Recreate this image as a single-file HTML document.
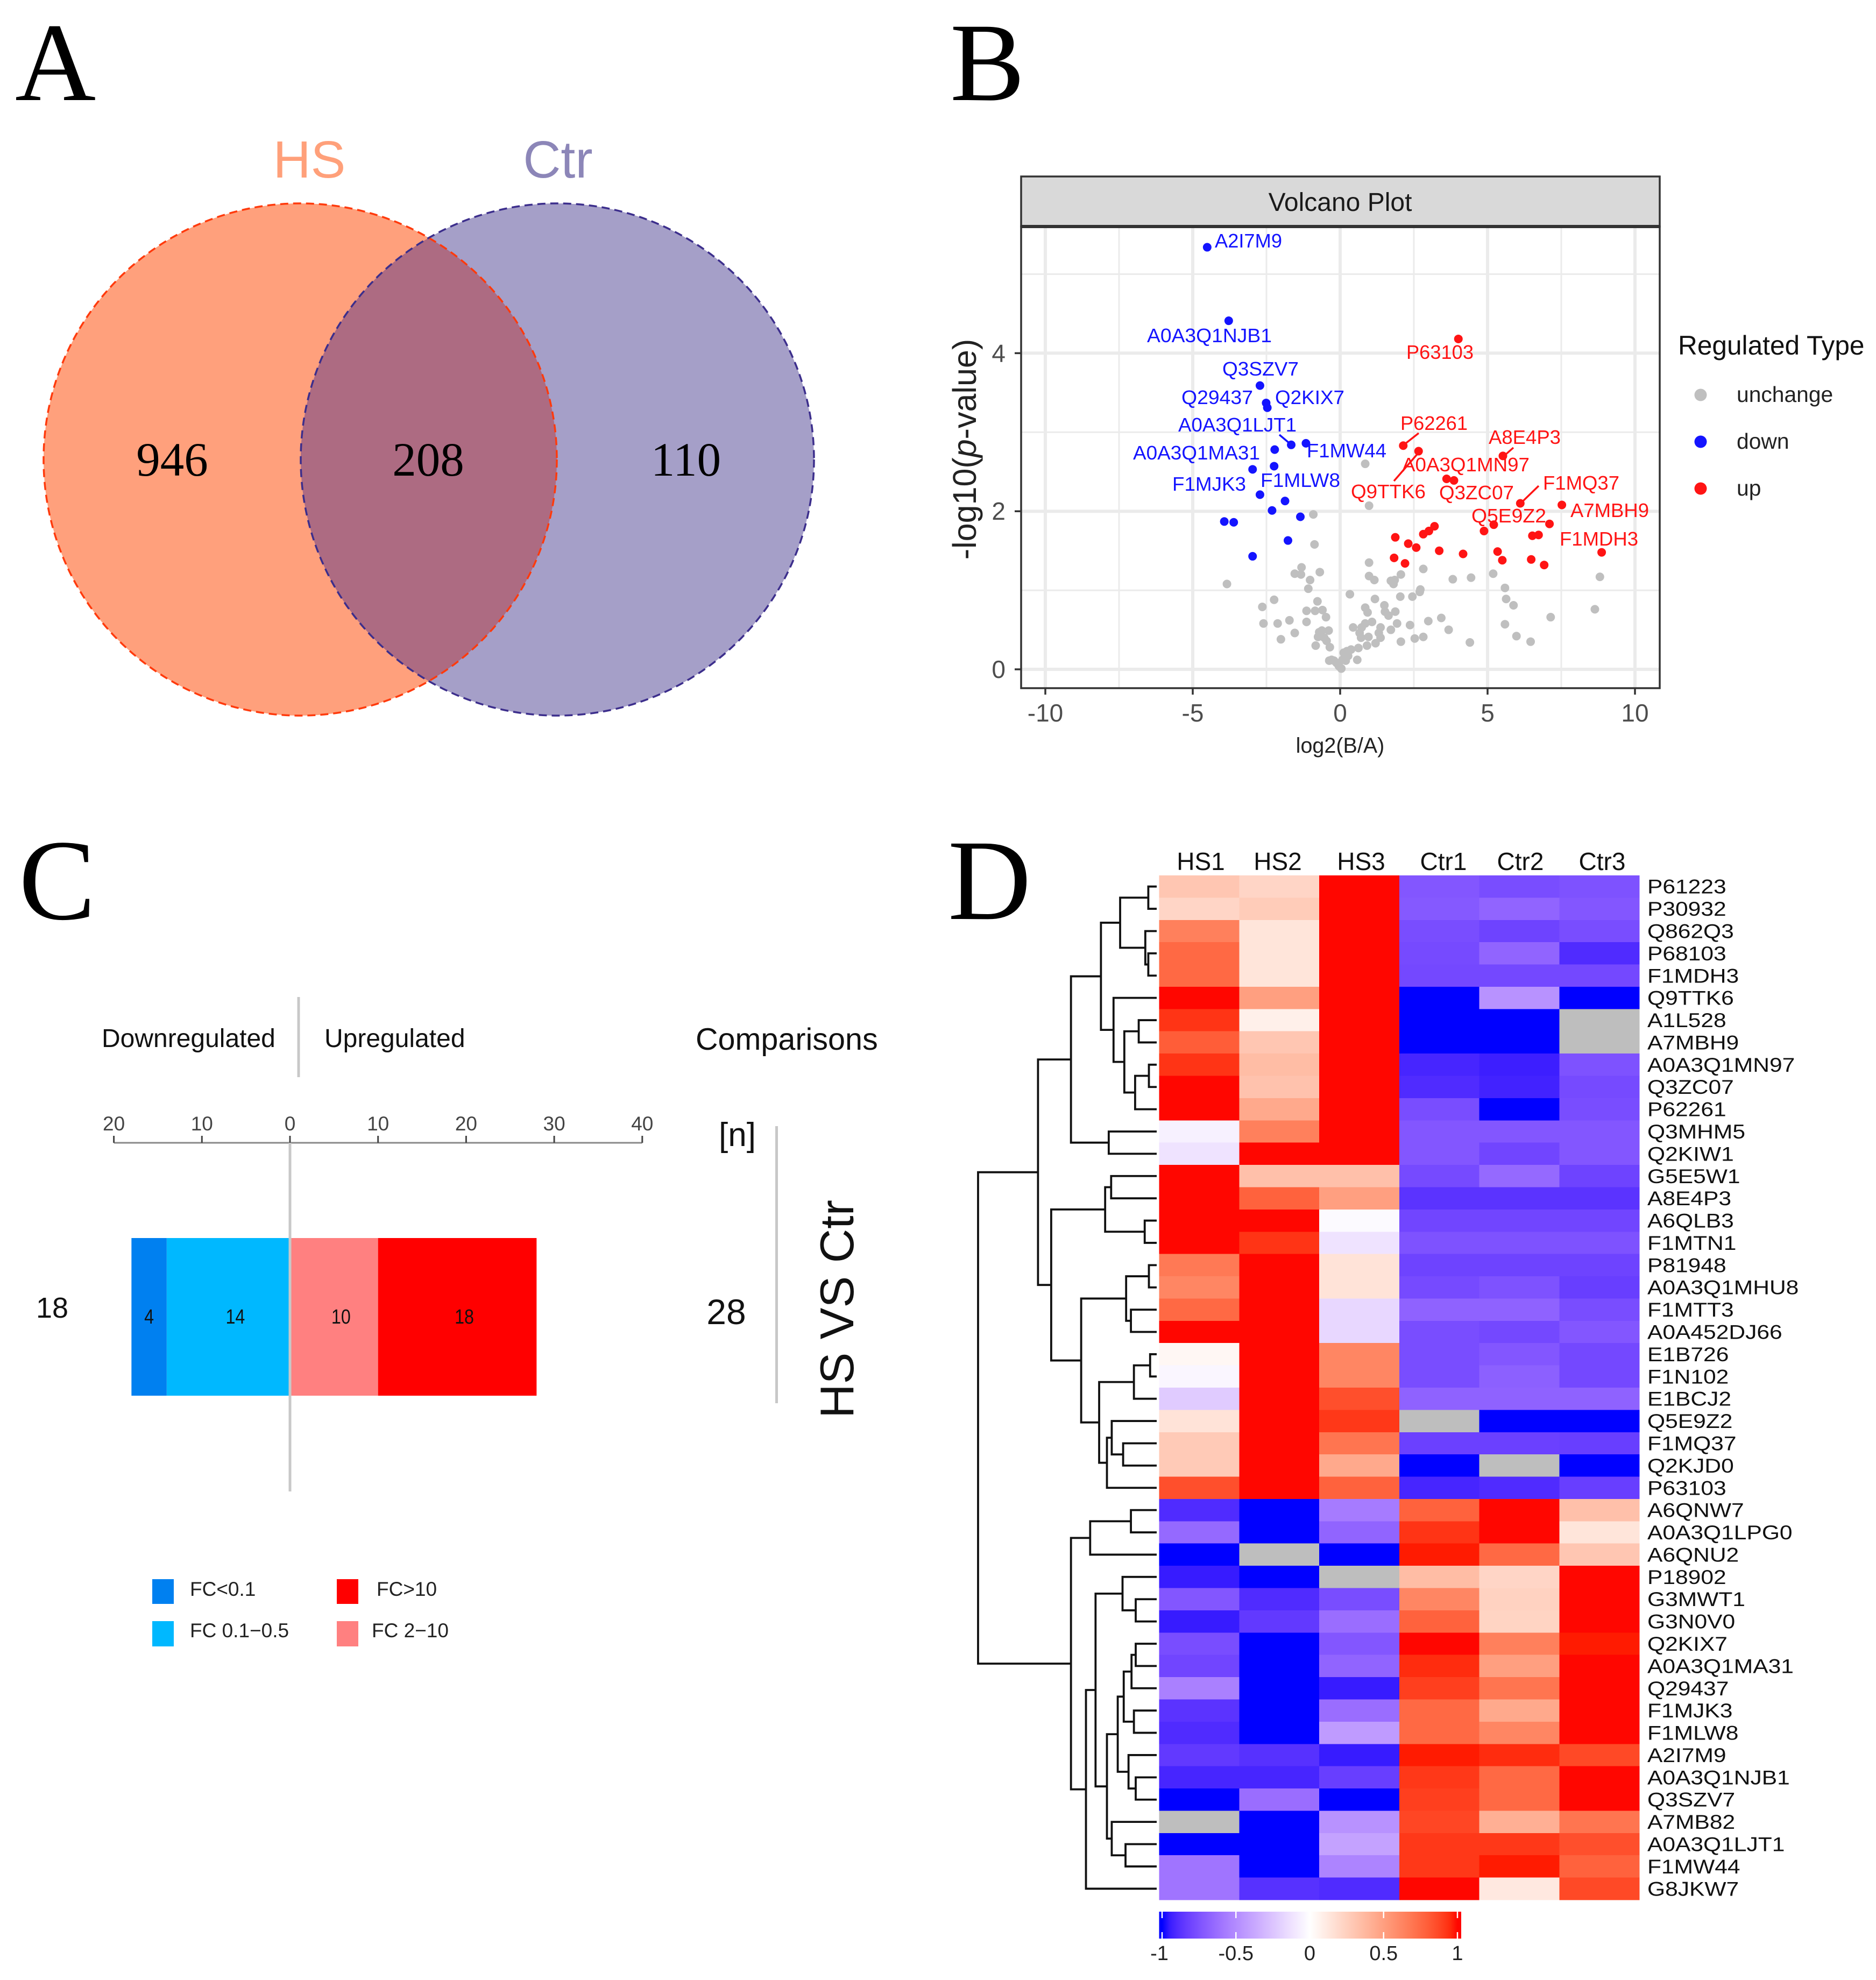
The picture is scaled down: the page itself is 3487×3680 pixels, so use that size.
<!DOCTYPE html>
<html><head><meta charset="utf-8"><title>Proteomics figure</title>
<style>
html,body{margin:0;padding:0;background:#fff}
svg{display:block}
text{font-family:"Liberation Sans",sans-serif}
.serif{font-family:"Liberation Serif",serif}
</style></head>
<body>
<svg xmlns="http://www.w3.org/2000/svg" width="3487" height="3680" viewBox="0 0 3487 3680">
<rect width="3487" height="3680" fill="#fff"/>
<defs>
<clipPath id="clipHS"><ellipse cx="558" cy="854" rx="477" ry="476"/></clipPath>
<linearGradient id="cbGrad" x1="0" x2="1" y1="0" y2="0"></linearGradient>
</defs>

<!-- panel letters -->
<text class="serif" x="28" y="186" font-size="208">A</text>
<text class="serif" x="1766" y="186" font-size="208">B</text>
<text class="serif" x="35" y="1708" font-size="214">C</text>
<text class="serif" x="1762" y="1708" font-size="214">D</text>

<!-- Panel A: Venn -->
<g>
<text x="575" y="330" font-size="97" text-anchor="middle" fill="#FFA07A">HS</text>
<text x="1037" y="330" font-size="97" text-anchor="middle" fill="#8C86B8">Ctr</text>
<ellipse cx="558" cy="854" rx="477" ry="476" fill="#FFA07C"/>
<ellipse cx="1036" cy="854" rx="477" ry="476" fill="#A59FC8"/>
<ellipse cx="1036" cy="854" rx="477" ry="476" fill="#AD6B82" clip-path="url(#clipHS)"/>
<ellipse cx="558" cy="854" rx="477" ry="476" fill="none" stroke="#FF3A0C" stroke-width="3.5" stroke-dasharray="15 9"/>
<ellipse cx="1036" cy="854" rx="477" ry="476" fill="none" stroke="#3C2E8C" stroke-width="3.5" stroke-dasharray="15 9"/>
<text class="serif" x="320" y="884" font-size="89" text-anchor="middle">946</text>
<text class="serif" x="796" y="884" font-size="89" text-anchor="middle">208</text>
<text class="serif" x="1275" y="884" font-size="89" text-anchor="middle">110</text>
</g>

<!-- Panel B: Volcano -->
<g>
<rect x="1898" y="421" width="1187" height="858" fill="#fff"/>
<g id="volcGrid"></g>
<g id="volcGray"></g>
<g id="volcDown"></g>
<g id="volcUp"></g>
<rect x="1898" y="421" width="1187" height="858" fill="none" stroke="#333" stroke-width="3.5"/>
<rect x="1898" y="328" width="1187" height="93" fill="#D9D9D9" stroke="#333" stroke-width="3.5"/>
<rect x="1898" y="418" width="1187" height="6" fill="#333"/>
<text x="2491" y="392" font-size="48" text-anchor="middle" fill="#1a1a1a">Volcano Plot</text>
<g id="volcAxes"></g>
<text x="2491" y="1399" font-size="39.5" text-anchor="middle" fill="#222">log2(B/A)</text>
<text transform="translate(1814,835) rotate(-90)" font-size="61" text-anchor="middle" fill="#222">-log10(<tspan font-style="italic">p</tspan>-value)</text>

<g font-size="36" fill="#1414ff">
<text x="2258" y="460" textLength="125" lengthAdjust="spacingAndGlyphs">A2I7M9</text>
<text x="2132" y="636" textLength="232" lengthAdjust="spacingAndGlyphs">A0A3Q1NJB1</text>
<text x="2272" y="698" textLength="142" lengthAdjust="spacingAndGlyphs">Q3SZV7</text>
<text x="2196" y="751" textLength="133" lengthAdjust="spacingAndGlyphs">Q29437</text>
<text x="2370" y="751" textLength="129" lengthAdjust="spacingAndGlyphs">Q2KIX7</text>
<text x="2190" y="802" textLength="220" lengthAdjust="spacingAndGlyphs">A0A3Q1LJT1</text>
<text x="2106" y="854" textLength="236" lengthAdjust="spacingAndGlyphs">A0A3Q1MA31</text>
<text x="2429" y="850" textLength="148" lengthAdjust="spacingAndGlyphs">F1MW44</text>
<text x="2343" y="905" textLength="148" lengthAdjust="spacingAndGlyphs">F1MLW8</text>
<text x="2179" y="912" textLength="137" lengthAdjust="spacingAndGlyphs">F1MJK3</text>
</g>
<g font-size="36" fill="#ff1414">
<text x="2614" y="667" textLength="125" lengthAdjust="spacingAndGlyphs">P63103</text>
<text x="2603" y="799" textLength="125" lengthAdjust="spacingAndGlyphs">P62261</text>
<text x="2767" y="825" textLength="134" lengthAdjust="spacingAndGlyphs">A8E4P3</text>
<text x="2606" y="876" textLength="237" lengthAdjust="spacingAndGlyphs">A0A3Q1MN97</text>
<text x="2868" y="910" textLength="142" lengthAdjust="spacingAndGlyphs">F1MQ37</text>
<text x="2511" y="926" textLength="139" lengthAdjust="spacingAndGlyphs">Q9TTK6</text>
<text x="2675" y="928" textLength="139" lengthAdjust="spacingAndGlyphs">Q3ZC07</text>
<text x="2919" y="961" textLength="146" lengthAdjust="spacingAndGlyphs">A7MBH9</text>
<text x="2735" y="971" textLength="139" lengthAdjust="spacingAndGlyphs">Q5E9Z2</text>
<text x="2899" y="1014" textLength="146" lengthAdjust="spacingAndGlyphs">F1MDH3</text>
</g>
<g stroke-width="3.5" fill="none">
<path d="M2378 808L2397 824" stroke="#1414ff"/>
<path d="M2637 805L2609 827" stroke="#ff1414"/>
<path d="M2813 832L2796 847" stroke="#ff1414"/>
<path d="M2637 841L2591 894" stroke="#ff1414"/>
<path d="M2860 903L2828 934" stroke="#ff1414"/>
</g>

<g>
<text x="3119" y="659" font-size="49.6" fill="#111">Regulated Type</text>
<circle cx="3161" cy="734" r="11.5" fill="#BFBFBF"/>
<text x="3228" y="747" font-size="40.8" fill="#222">unchange</text>
<circle cx="3161" cy="821" r="11.5" fill="#1414ff"/>
<text x="3228" y="834" font-size="40.8" fill="#222">down</text>
<circle cx="3161" cy="908" r="11.5" fill="#ff1414"/>
<text x="3228" y="921" font-size="40.8" fill="#222">up</text>
</g>
</g>

<!-- Panel C: diverging bar -->
<g>
<text x="189" y="1946" font-size="48" fill="#111">Downregulated</text>
<text x="603" y="1946" font-size="48" fill="#111">Upregulated</text>
<rect x="552.5" y="1853" width="5" height="149" fill="#C8C8C8"/>
<text x="1293" y="1951" font-size="57.5" fill="#111">Comparisons</text>
<text x="1336" y="2130" font-size="62" fill="#111">[n]</text>
<rect x="1441" y="2093" width="5" height="515" fill="#C8C8C8"/>
<g id="barAxis"></g>
<g id="barSegs"></g>
<text x="97" y="2449" font-size="54" text-anchor="middle" fill="#111">18</text>
<text x="1350" y="2461" font-size="66" text-anchor="middle" fill="#111">28</text>
<text transform="translate(1586,2433) rotate(-90)" font-size="88" text-anchor="middle" fill="#111">HS VS Ctr</text>
<g>
<rect x="283" y="2935" width="40" height="46" fill="#0080F0"/>
<text x="353" y="2966" font-size="37" fill="#222">FC&lt;0.1</text>
<rect x="283" y="3013" width="40" height="47" fill="#00B8FF"/>
<text x="353" y="3043" font-size="37" fill="#222">FC 0.1−0.5</text>
<rect x="626" y="2935" width="40" height="46" fill="#FF0000"/>
<text x="700" y="2966" font-size="37" fill="#222">FC&gt;10</text>
<rect x="626" y="3013" width="40" height="47" fill="#FF8080"/>
<text x="691" y="3043" font-size="37" fill="#222">FC 2−10</text>
</g>
</g>

<!-- Panel D: heatmap -->
<g>
<g id="hmCols"></g>
<g id="hmDendro"></g>
<g id="hmCells" shape-rendering="crispEdges"></g>
<g id="hmRows"></g>
<g>
<rect x="2154.5" y="3553" width="561.5" height="50" fill="url(#cbGrad)"/>
<g id="cbTicks"></g>
</g>
</g>

<script>
// ---------- Volcano data ----------
var downX=[-4.51,-3.78,-2.72,-2.51,-2.47,-1.66,-1.16,-2.22,-2.24,-2.97,-2.72,-1.87,-2.31,-1.35,-3.93,-3.61,-1.77,-2.97];
var downY=[5.34,4.41,3.59,3.37,3.31,2.84,2.86,2.78,2.57,2.53,2.21,2.13,2.01,1.93,1.87,1.86,1.63,1.43];
var upX=[4.01,2.14,2.66,5.52,3.61,3.86,6.11,7.52,7.10,5.21,4.88,3.20,3.01,2.82,1.87,6.52,6.73,2.31,2.58,3.36,4.17,5.34,5.50,6.48,6.92,1.83,2.20,8.87];
var upY=[4.18,2.83,2.76,2.70,2.41,2.39,2.10,2.08,1.84,1.83,1.75,1.81,1.75,1.71,1.67,1.69,1.70,1.59,1.54,1.50,1.46,1.49,1.38,1.39,1.32,1.41,1.34,1.48];
var grayX=[0.85,0.98,-0.91,-0.87,-3.84,0.98,-1.31,-1.54,-1.33,-0.69,-1.02,-1.08,0.98,1.16,1.72,1.85,2.06,2.82,3.82,4.44,5.19,8.81,1.81,2.72,2.70,5.59,-2.24,0.33,1.18,2.04,2.45,5.63,5.88,-2.64,-0.77,-1.14,-0.85,-0.60,0.85,1.50,0.93,1.52,1.87,1.64,8.64,7.14,-2.60,-2.12,-1.72,-1.14,-0.48,0.85,1.08,1.93,2.99,3.43,5.59,2.37,0.44,0.73,1.37,1.72,3.68,-1.54,-0.62,-0.39,-0.71,-0.75,-2.01,-0.54,0.66,0.71,0.96,1.31,1.37,2.53,2.82,5.98,2.06,4.40,6.46,-0.83,-0.46,-0.35,0.91,1.20,0.62,0.37,0.23,0.12,0.27,0.19,0.58,-0.37,-0.21,-0.12,-0.04,0.04,0.08,-0.29,0.19];
var grayY=[2.60,2.07,1.96,1.58,1.08,1.35,1.29,1.21,1.20,1.23,1.13,1.02,1.18,1.13,1.12,1.13,1.20,1.27,1.14,1.16,1.21,1.17,1.08,1.01,0.98,1.03,0.88,0.95,0.89,0.92,0.92,0.89,0.81,0.79,0.86,0.74,0.74,0.75,0.78,0.81,0.72,0.73,0.73,0.68,0.76,0.66,0.58,0.58,0.62,0.60,0.66,0.58,0.60,0.58,0.61,0.65,0.57,0.56,0.53,0.53,0.53,0.50,0.50,0.46,0.49,0.49,0.47,0.41,0.38,0.40,0.46,0.40,0.41,0.46,0.40,0.39,0.41,0.42,0.35,0.34,0.35,0.30,0.36,0.28,0.30,0.33,0.27,0.25,0.23,0.21,0.17,0.14,0.12,0.11,0.11,0.08,0.04,0.01,0.12,0.12,0.11];
var xTickValues=[-10,-5,0,5,10];
var xTickLabels=['-10','-5','0','5','10'];
var xMinorValues=[-7.5,-2.5,2.5,7.5];
var yTickValues=[0,2,4];
var yTickLabels=['0','2','4'];
var yMinorValues=[1,3,5];

// ---------- Bar data ----------
var barDownValues=[14,4];
var barDownColors=['#00B8FF','#0080F0'];
var barUpValues=[10,18];
var barUpColors=['#FF8080','#FF0000'];
var barTickValues=[-20,-10,0,10,20,30,40];
var barTickLabels=['20','10','0','10','20','30','40'];

// ---------- Heatmap data ----------
var colNames=['HS1','HS2','HS3','Ctr1','Ctr2','Ctr3'];
var rowNames=['P61223','P30932','Q862Q3','P68103','F1MDH3','Q9TTK6','A1L528','A7MBH9','A0A3Q1MN97','Q3ZC07','P62261','Q3MHM5','Q2KIW1','G5E5W1','A8E4P3','A6QLB3','F1MTN1','P81948','A0A3Q1MHU8','F1MTT3','A0A452DJ66','E1B726','F1N102','E1BCJ2','Q5E9Z2','F1MQ37','Q2KJD0','P63103','A6QNW7','A0A3Q1LPG0','A6QNU2','P18902','G3MWT1','G3N0V0','Q2KIX7','A0A3Q1MA31','Q29437','F1MJK3','F1MLW8','A2I7M9','A0A3Q1NJB1','Q3SZV7','A7MB82','A0A3Q1LJT1','F1MW44','G8JKW7'];
var heatValues=[
[.3,.22,1,-.73,-.77,-.75],[.22,.27,1,-.72,-.67,-.73],[.65,.14,1,-.77,-.81,-.77],[.75,.14,1,-.78,-.67,-.9],[.75,.14,1,-.79,-.79,-.79],
[1,.5,1,-1,-.47,-1],[.93,.08,1,-1,-1,null],[.8,.3,1,-1,-1,null],[.93,.35,1,-.92,-.94,-.75],[1,.32,1,-.9,-.93,-.78],
[1,.45,1,-.77,-1,-.77],[-.06,.65,1,-.73,-.73,-.73],[-.12,1,1,-.73,-.8,-.73],[1,.33,.33,-.78,-.65,-.81],[1,.78,.5,-.87,-.87,-.87],
[1,1,-.02,-.8,-.8,-.8],[1,.93,-.12,-.75,-.75,-.75],[.68,1,.15,-.81,-.81,-.81],[.62,1,.15,-.78,-.75,-.83],[.75,1,-.17,-.68,-.68,-.77],
[1,1,-.17,-.77,-.79,-.73],[.04,1,.62,-.77,-.73,-.79],[-.04,1,.62,-.77,-.69,-.79],[-.22,1,.85,-.68,-.68,-.68],[.15,1,.92,null,-1,-1],
[.28,1,.7,-.82,-.82,-.83],[.28,1,.45,-1,null,-1],[.85,1,.78,-.92,-.9,-.83],[-.9,-1,-.57,.78,1,.33],[-.65,-1,-.67,.93,1,.14],
[-1,null,-1,.98,.75,.3],[-.95,-1,null,.35,.22,1],[-.73,-.9,-.77,.62,.24,1],[-.95,-.85,-.63,.78,.23,1],[-.77,-1,-.73,1,.65,.98],
[-.8,-1,-.67,.95,.5,1],[-.55,-1,-.95,.9,.7,1],[-.87,-1,-.63,.75,.45,1],[-.9,-1,-.43,.75,.62,1],[-.85,-.88,-.95,.98,.95,.87],
[-.92,-.92,-.83,.92,.75,1],[-1,-.63,-1,.9,.75,1],[null,-1,-.47,.88,.42,.7],[-1,-1,-.4,.92,.92,.85],[-.6,-1,-.53,.92,.98,.78],[-.6,-.88,-.9,1,.12,.87]];
// merge heights, leaves are 1-based row numbers
var dendroTree=[298,
 [198,
  [143,
   [93,
    [61,[14,1,2],[19,3,[14,4,5]]],
    [72,6,[54,[30,7,8],[36,[13,9,10],11]]]],
   [80,12,13]],
  [176,
   [86,[76,14,15],[20,16,17]],
   [126,
    [51,[13,18,19],[43,20,21]],
    [96,[38,[11,22,23],24],[83,[75,25,[56,26,27]],28]]]]],
 [143,
  [111,[43,29,30],31],
  [118,
   [102,
    [57,32,[35,33,34]],
    [83,
     [65,
      [55,[42,[35,35,36],37],[38,38,39]],
      [47,40,[35,41,42]]],
     [75,43,[52,44,45]]]],
   46]]];
var colorbarTicks=[-1,-0.5,0,0.5,1];
var colorbarTickLabels=['-1','-0.5','0','0.5','1'];

var NS='http://www.w3.org/2000/svg';
function mk(tag,parentId){var e=document.createElementNS(NS,tag);document.getElementById(parentId).appendChild(e);return e;}

// ---------- Volcano axes ----------
function vx(v){return 2491+v*54.8;}
function vy(v){return 1244-v*146.9;}
var PL=1898,PR=3085,PT=421,PB=1279;
function gridLine(x1,y1,x2,y2,w){
  var l=mk('line','volcGrid');
  
  
  l.setAttribute('x1',x1);l.setAttribute('y1',y1);l.setAttribute('x2',x2);l.setAttribute('y2',y2);
  l.setAttribute('stroke','#EBEBEB');l.setAttribute('stroke-width',w);
}
xMinorValues.forEach(function(v){gridLine(vx(v),PT,vx(v),PB,3);});
yMinorValues.forEach(function(v){gridLine(PL,vy(v),PR,vy(v),3);});
xTickValues.forEach(function(v){gridLine(vx(v),PT,vx(v),PB,6);});
yTickValues.forEach(function(v){gridLine(PL,vy(v),PR,vy(v),6);});
xTickValues.forEach(function(v,i){
  var t=mk('line','volcAxes');
  
  
  t.setAttribute('x1',vx(v));t.setAttribute('x2',vx(v));t.setAttribute('y1',PB);t.setAttribute('y2',PB+12);
  t.setAttribute('stroke','#333');t.setAttribute('stroke-width',3.5);
  var s=mk('text','volcAxes');
  
  
  s.setAttribute('x',vx(v));s.setAttribute('y',1341);s.setAttribute('font-size',46);
  s.setAttribute('text-anchor','middle');s.setAttribute('fill','#4D4D4D');
  s.textContent=xTickLabels[i];
});
yTickValues.forEach(function(v,i){
  var t=mk('line','volcAxes');
  
  
  t.setAttribute('x1',PL-12);t.setAttribute('x2',PL);t.setAttribute('y1',vy(v));t.setAttribute('y2',vy(v));
  t.setAttribute('stroke','#333');t.setAttribute('stroke-width',3.5);
  var s=mk('text','volcAxes');
  
  
  s.setAttribute('x',1869);s.setAttribute('y',vy(v)+16);s.setAttribute('font-size',46);
  s.setAttribute('text-anchor','end');s.setAttribute('fill','#4D4D4D');
  s.textContent=yTickLabels[i];
});
grayX.forEach(function(x,i){
  var c=mk('circle','volcGray');
  
  
  c.setAttribute('cx',vx(x));c.setAttribute('cy',vy(grayY[i]));c.setAttribute('r',8);c.setAttribute('fill','#BFBFBF');
});
downX.forEach(function(x,i){
  var c=mk('circle','volcDown');
  
  
  c.setAttribute('cx',vx(x));c.setAttribute('cy',vy(downY[i]));c.setAttribute('r',8);c.setAttribute('fill','#1414ff');
});
upX.forEach(function(x,i){
  var c=mk('circle','volcUp');
  
  
  c.setAttribute('cx',vx(x));c.setAttribute('cy',vy(upY[i]));c.setAttribute('r',8);c.setAttribute('fill','#ff1414');
});

// ---------- Bar chart ----------
function bx(v){return 539+v*16.37;}
var barAxisY=2124;
var axisLine=mk('line','barAxis');


axisLine.setAttribute('x1',bx(barTickValues[0]));axisLine.setAttribute('x2',bx(barTickValues[barTickValues.length-1]));
axisLine.setAttribute('y1',barAxisY);axisLine.setAttribute('y2',barAxisY);
axisLine.setAttribute('stroke','#888');axisLine.setAttribute('stroke-width',3);
barTickValues.forEach(function(v,i){
  var t=mk('line','barAxis');
  
  
  t.setAttribute('x1',bx(v));t.setAttribute('x2',bx(v));t.setAttribute('y1',barAxisY-13);t.setAttribute('y2',barAxisY);
  t.setAttribute('stroke','#444');t.setAttribute('stroke-width',3);
  var s=mk('text','barAxis');
  
  
  s.setAttribute('x',bx(v));s.setAttribute('y',barAxisY-23);s.setAttribute('font-size',37);
  s.setAttribute('text-anchor','middle');s.setAttribute('fill','#444');
  s.textContent=barTickLabels[i];
});
function seg(from,to,color,val){
  var a=Math.min(from,to),b=Math.max(from,to);
  var r=mk('rect','barSegs');
  
  
  r.setAttribute('x',bx(a));r.setAttribute('width',bx(b)-bx(a));r.setAttribute('y',2301);r.setAttribute('height',293);
  r.setAttribute('fill',color);
  var s=mk('text','barSegs');
  
  
  s.setAttribute('transform','translate('+((bx(a)+bx(b))/2+(val>4?13:0))+',2460) scale(.85,1)');
  s.setAttribute('font-size',38);
  s.setAttribute('text-anchor','middle');s.setAttribute('fill','#111');
  s.textContent=val;
}
var acc=0;
barDownValues.forEach(function(v,i){seg(-acc,-(acc+v),barDownColors[i],v);acc+=v;});
acc=0;
barUpValues.forEach(function(v,i){seg(acc,acc+v,barUpColors[i],v);acc+=v;});
var zeroLine=mk('rect','barSegs');


zeroLine.setAttribute('x',bx(0)-2.5);zeroLine.setAttribute('width',5);zeroLine.setAttribute('y',barAxisY);zeroLine.setAttribute('height',648);
zeroLine.setAttribute('fill','#C8C8C8');

// ---------- Heatmap ----------
function labToRgb(L,a,b){
  var fy=(L+16)/116,fx=fy+a/500,fz=fy-b/200;
  function g(t){return t>6/29?t*t*t:3*(6/29)*(6/29)*(t-4/29);}
  var X=0.95047*g(fx),Y=g(fy),Z=1.08883*g(fz);
  var r=3.2406*X-1.5372*Y-0.4986*Z,gg=-0.9689*X+1.8758*Y+0.0415*Z,bb=0.0557*X-0.2040*Y+1.0570*Z;
  function c(u){u=Math.max(0,Math.min(1,u));u=u<=0.0031308?12.92*u:1.055*Math.pow(u,1/2.4)-0.055;return Math.round(u*255);}
  return 'rgb('+c(r)+','+c(gg)+','+c(bb)+')';
}
function heatColor(v){
  if(v===null)return '#BEBEBE';
  var f=Math.abs(v);
  if(v<0)return labToRgb(100-67.7*f,79.2*f,-107.9*f);
  return labToRgb(100-45.7*f,80.8*f,69.9*f);
}
var HL=2154.5,HT=1627,CW=(3047-2154.5)/6,RH=(3531-1627)/46;
function hx(c){return HL+c*CW;}
function hy(r){return HT+r*RH;}
var colCenters=[2232,2375,2530,2683,2826,2978];
colNames.forEach(function(n,i){
  var t=mk('text','hmCols');
  
  
  t.setAttribute('x',colCenters[i]);t.setAttribute('y',1617);t.setAttribute('font-size',46);
  t.setAttribute('text-anchor','middle');t.setAttribute('fill','#111');
  t.textContent=n;
});
heatValues.forEach(function(row,r){
  row.forEach(function(v,c){
    var e=mk('rect','hmCells');
    
    
    e.setAttribute('x',hx(c));e.setAttribute('y',hy(r));e.setAttribute('width',CW+0.6);e.setAttribute('height',RH+0.6);
    e.setAttribute('fill',heatColor(v));
  });
});
rowNames.forEach(function(n,r){
  var t=mk('text','hmRows');
  
  
  t.setAttribute('transform','translate(3062,'+(hy(r)+RH/2+13)+') scale(1.15,1)');
  t.setAttribute('font-size',37);t.setAttribute('fill','#111');
  t.textContent=n;
});
function dendX(h){return 2150-h*1.1142;}
function dendY(n){return hy(n-1)+RH/2;}
var dendD='';
function walk(node){
  if(typeof node==='number')return {x:dendX(0),y:dendY(node)};
  var a=walk(node[1]),b=walk(node[2]),x=dendX(node[0]);
  dendD+='M'+a.x+' '+a.y+'H'+x+'V'+b.y+'H'+b.x;
  return {x:x,y:(a.y+b.y)/2};
}
walk(dendroTree);
var dp=mk('path','hmDendro');


dp.setAttribute('d',dendD);dp.setAttribute('fill','none');dp.setAttribute('stroke','#111');dp.setAttribute('stroke-width',3.8);

// ---------- Colorbar ----------
function cbx(v){return 2434.5+v*274.5;}
var grad=document.getElementById('cbGrad');
for(var i=0;i<=40;i++){
  var st=document.createElementNS(NS,'stop');
  var gv=-1+i/20;
  st.setAttribute('offset',(cbx(gv)-2154.5)/561.5);
  st.setAttribute('stop-color',heatColor(gv));
  grad.appendChild(st);
}
colorbarTicks.forEach(function(v,i){
  var x=cbx(v);
  var t=mk('line','cbTicks');
  
  
  t.setAttribute('x1',x);t.setAttribute('x2',x);t.setAttribute('y1',3553);t.setAttribute('y2',3565);
  t.setAttribute('stroke','#fff');t.setAttribute('stroke-width',2.5);
  var t2=mk('line','cbTicks');
  
  
  t2.setAttribute('x1',x);t2.setAttribute('x2',x);t2.setAttribute('y1',3591);t2.setAttribute('y2',3603);
  t2.setAttribute('stroke','#fff');t2.setAttribute('stroke-width',2.5);
  var s=mk('text','cbTicks');
  
  
  s.setAttribute('x',x-(i===0?5:0));s.setAttribute('y',3643);s.setAttribute('font-size',38);
  s.setAttribute('text-anchor','middle');s.setAttribute('fill','#222');
  s.textContent=colorbarTickLabels[i];
});
</script>
</svg>
</body></html>
